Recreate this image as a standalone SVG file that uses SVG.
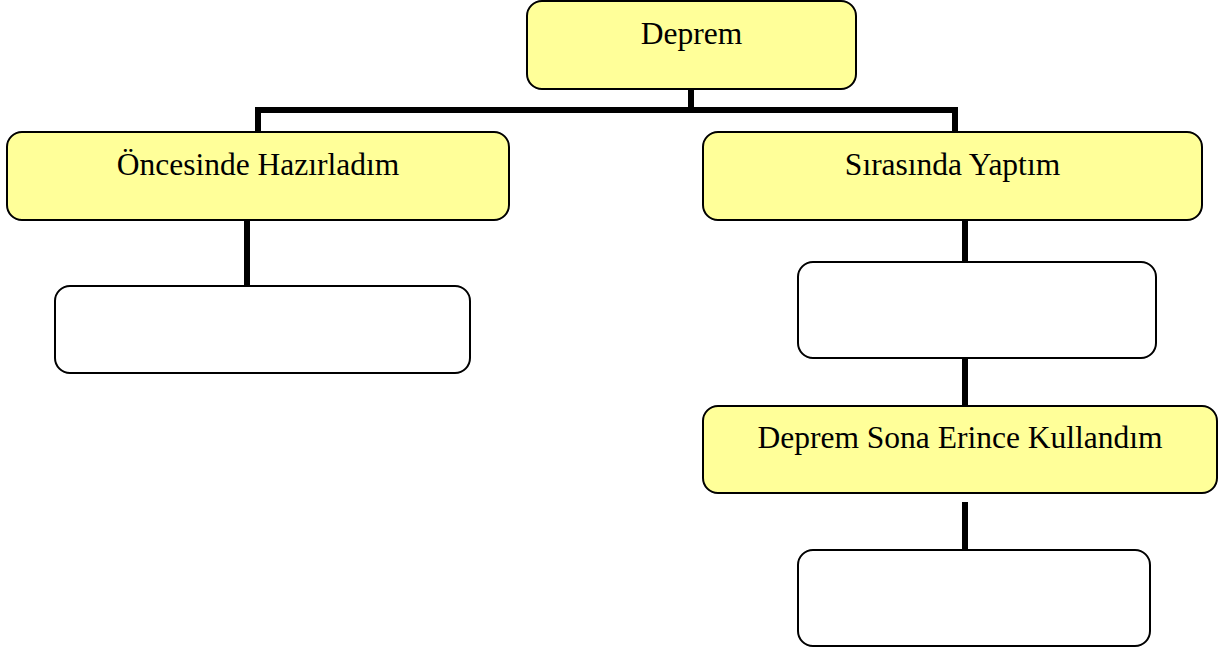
<svg xmlns="http://www.w3.org/2000/svg" width="1227" height="650" viewBox="0 0 1227 650">
<style>
.y{fill:#FFFF99;stroke:#000;stroke-width:2}
.w{fill:#fff;stroke:#000;stroke-width:2}
.t{font-family:"Liberation Serif","Times New Roman",serif;font-size:31.5px;fill:#000;text-anchor:middle}
.c{fill:none;stroke:#000;stroke-width:6;stroke-linejoin:miter;stroke-linecap:butt}
</style>
<rect width="1227" height="650" fill="#fff"/>
<g id="connectors">
<path class="c" d="M691,89 V110"/>
<polyline class="c" points="258,132 258,110 955,110 955,132"/>
<path class="c" d="M247,220 V286"/>
<path class="c" d="M965,220 V262"/>
<path class="c" d="M965,358 V406"/>
<path class="c" d="M965,502 V550"/>
</g>
<g id="n-deprem">
<rect class="y" x="527" y="1" width="329" height="88" rx="15"/>
<text class="t" x="691.5" y="44">Deprem</text>
</g>
<g id="n-oncesinde">
<rect class="y" x="7" y="132" width="502" height="88" rx="15"/>
<text class="t" x="258" y="175">Öncesinde Hazırladım</text>
</g>
<g id="n-oncesinde-box">
<rect class="w" x="55" y="286" width="415" height="87" rx="15"/>
</g>
<g id="n-sirasinda">
<rect class="y" x="703" y="132" width="499" height="88" rx="15"/>
<text class="t" x="952.5" y="175">Sırasında Yaptım</text>
</g>
<g id="n-sirasinda-box">
<rect class="w" x="798" y="262" width="358" height="96" rx="15"/>
</g>
<g id="n-sona">
<rect class="y" x="703" y="406" width="514" height="87" rx="15"/>
<text class="t" x="960" y="448">Deprem Sona Erince Kullandım</text>
</g>
<g id="n-sona-box">
<rect class="w" x="798" y="550" width="352" height="96" rx="15"/>
</g>
</svg>
